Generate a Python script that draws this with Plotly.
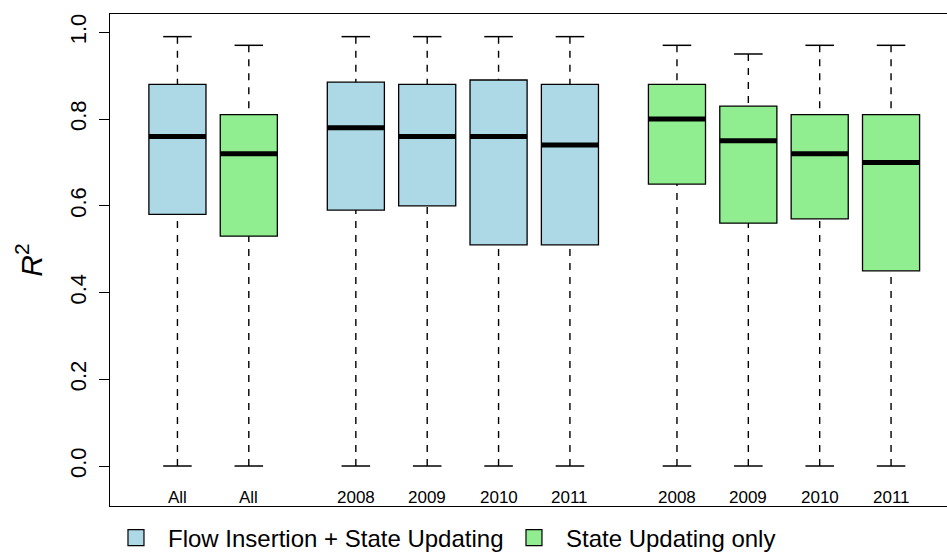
import plotly.graph_objects as go

# Box-plot summaries of R^2 for each run
labels = ["All", "All", "2008", "2009", "2010", "2011", "2008", "2009", "2010", "2011"]
group = [0, 0, 1, 1, 1, 1, 2, 2, 2, 2]          # 0: all years, 1: FI+SU by year, 2: SU by year
method = ["FI", "SU", "FI", "FI", "FI", "FI", "SU", "SU", "SU", "SU"]
upper = [0.99, 0.97, 0.99, 0.99, 0.99, 0.99, 0.97, 0.95, 0.97, 0.97]
q3 = [0.88, 0.81, 0.885, 0.88, 0.89, 0.88, 0.88, 0.83, 0.81, 0.81]
median = [0.76, 0.72, 0.78, 0.76, 0.76, 0.74, 0.80, 0.75, 0.72, 0.70]
q1 = [0.58, 0.53, 0.59, 0.60, 0.51, 0.51, 0.65, 0.56, 0.57, 0.45]
lower = [0.0, 0.0, 0.0, 0.0, 0.0, 0.0, 0.0, 0.0, 0.0, 0.0]

method_names = {"FI": "Flow Insertion + State Updating", "SU": "State Updating only"}
method_colors = {"FI": "#ADD8E6", "SU": "#90EE90"}

# x slot of each box: consecutive, with half a slot between groups
xpos = [i + 1 + 0.5 * g for i, g in enumerate(group)]

FONT = "Liberation Sans, Arial, Helvetica, sans-serif"
HALF_BOX = 0.4
HALF_CAP = 0.2

fig = go.Figure()

# boxes (Q1..Q3)
for m in ["FI", "SU"]:
    idx = [i for i, mm in enumerate(method) if mm == m]
    fig.add_trace(go.Bar(
        x=[xpos[i] for i in idx],
        y=[q3[i] - q1[i] for i in idx],
        base=[q1[i] for i in idx],
        width=2 * HALF_BOX,
        marker=dict(color=method_colors[m], line=dict(color="black", width=1.3)),
        showlegend=False, hoverinfo="skip",
    ))

# dashed whiskers, drawn from the whisker ends toward the box
wx, wy = [], []
for i, p in enumerate(xpos):
    wx += [p, p, None, p, p, None]
    wy += [upper[i], q3[i], None, lower[i], q1[i], None]
fig.add_trace(go.Scatter(x=wx, y=wy, mode="lines",
                         line=dict(color="black", width=1.4, dash="7px,7px"),
                         showlegend=False, hoverinfo="skip"))

# whisker caps
cx, cy = [], []
for i, p in enumerate(xpos):
    cx += [p - HALF_CAP, p + HALF_CAP, None, p - HALF_CAP, p + HALF_CAP, None]
    cy += [upper[i], upper[i], None, lower[i], lower[i], None]
fig.add_trace(go.Scatter(x=cx, y=cy, mode="lines",
                         line=dict(color="black", width=1.5),
                         showlegend=False, hoverinfo="skip"))

# medians
mx, my = [], []
for i, p in enumerate(xpos):
    mx += [p - HALF_BOX, p + HALF_BOX, None]
    my += [median[i], median[i], None]
fig.add_trace(go.Scatter(x=mx, y=my, mode="lines",
                         line=dict(color="black", width=5),
                         showlegend=False, hoverinfo="skip"))

# legend entries
for m in ["FI", "SU"]:
    fig.add_trace(go.Scatter(
        x=[None], y=[None], mode="markers", name=method_names[m],
        marker=dict(symbol="square", size=17, color=method_colors[m],
                    line=dict(color="black", width=1.2)),
    ))

# box labels along the bottom, inside the frame
for p, lab in zip(xpos, labels):
    fig.add_annotation(x=p, y=-0.0715, xref="x", yref="y", text=lab,
                       showarrow=False, yanchor="middle",
                       font=dict(family=FONT, size=17, color="black"))

fig.update_layout(
    width=947, height=552,
    margin=dict(l=110, r=0, t=14, b=46, autoexpand=False),
    paper_bgcolor="white", plot_bgcolor="white",
    barmode="overlay",
    font=dict(family=FONT, color="black"),
    xaxis=dict(range=[0.055, 11.784], showgrid=False, zeroline=False,
               showticklabels=False, ticks="",
               showline=True, mirror=True, linecolor="black", linewidth=1.3),
    yaxis=dict(range=[-0.0922, 1.0422], showgrid=False, zeroline=False,
               tickvals=[0, 0.2, 0.4, 0.6, 0.8, 1.0],
               ticktext=["0.0", "0.2", "0.4", "0.6", "0.8", "1.0"],
               tickangle=-90, ticks="outside", ticklen=10, tickwidth=1.3,
               tickcolor="black", tickfont=dict(family=FONT, size=22),
               ticklabelstandoff=4,
               showline=True, linecolor="black", linewidth=1.3,
               title=dict(text="<i>R</i><sup>2</sup>", font=dict(family=FONT, size=30),
                          standoff=14)),
    legend=dict(orientation="h", xref="container", yref="container",
                x=0.1098, y=0.066, xanchor="left", yanchor="top",
                itemwidth=54, entrywidth=329, entrywidthmode="pixels",
                font=dict(family=FONT, size=24),
                bgcolor="rgba(0,0,0,0)"),
)

fig.write_html("out.html")
